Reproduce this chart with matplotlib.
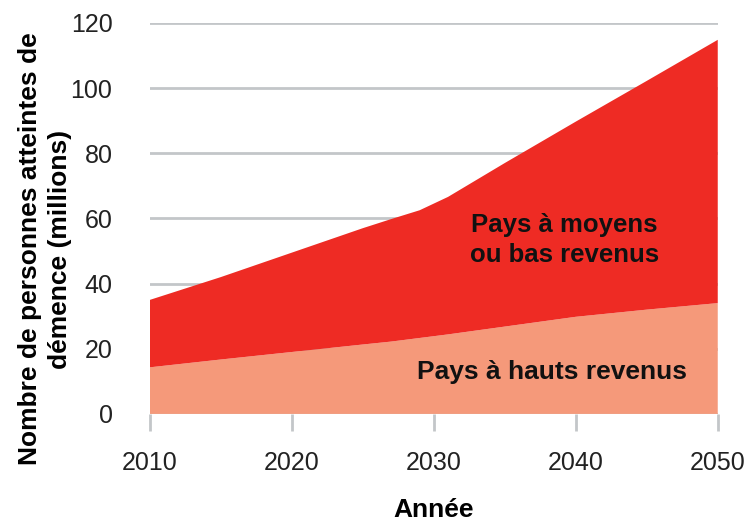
import matplotlib
matplotlib.use('Agg')
import matplotlib.pyplot as plt

# ── data ──────────────────────────────────────────────
years        = [2010, 2015, 2020, 2025, 2027, 2029, 2031, 2033, 2035, 2040, 2045, 2050]
total        = [35.0, 42.0, 49.5, 57.0, 59.8, 62.5, 66.6, 71.8, 77.0, 89.7, 102.2, 114.8]
high_income  = [14.3, 16.7, 19.0, 21.3, 22.2, 23.3, 24.4, 25.6, 26.8, 29.8, 32.0, 34.0]
low_mid      = [t - h for t, h in zip(total, high_income)]

x_ticks = [2010, 2020, 2030, 2040, 2050]
y_ticks = [0, 20, 40, 60, 80, 100, 120]

RED    = '#EE2B24'
SALMON = '#F5997A'
GRID   = '#C3C6C9'
FONT   = 'Liberation Sans'

fig = plt.figure(figsize=(7.5, 5.32), dpi=100)
ax = fig.add_axes([0.2, 0.222, 0.757, 0.735])

ax.stackplot(years, high_income, low_mid, colors=[SALMON, RED], linewidth=0, zorder=2)

ax.set_xlim(2010, 2050)
ax.set_ylim(0, 120)
for s in ax.spines.values():
    s.set_visible(False)

ax.set_yticks(y_ticks)
ax.set_xticks(x_ticks)
ax.yaxis.grid(True, color=GRID, lw=2, zorder=1)
ax.set_axisbelow(True)
ax.tick_params(axis='y', length=0, pad=27, labelsize=18, labelcolor='#222222')
ax.tick_params(axis='x', length=12, width=2, color=GRID, pad=15,
               labelsize=18, labelcolor='#222222')
for lab in ax.get_xticklabels() + ax.get_yticklabels():
    lab.set_family(FONT)

ax.set_xlabel('Année', fontsize=19, fontweight='bold', family=FONT, labelpad=16)
fig.text(0.06, 0.532, 'Nombre de personnes atteintes de\ndémence (millions)',
         rotation=90, ha='center', va='center', fontsize=19, fontweight='bold',
         family=FONT, linespacing=1.3)

ax.text(2039.2, 53.4, 'Pays à moyens\nou bas revenus', ha='center', va='center',
        fontsize=18.5, fontweight='bold', family=FONT, color='#111111',
        linespacing=1.3)
ax.text(2038.3, 12.9, 'Pays à hauts revenus', ha='center', va='center',
        fontsize=19, fontweight='bold', family=FONT, color='#111111')

fig.savefig('out.png', dpi=100, facecolor='white')
